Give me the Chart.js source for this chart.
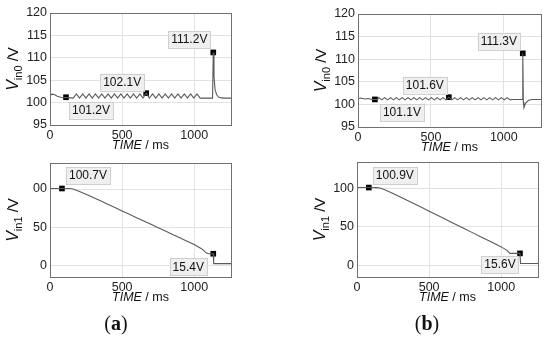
<!DOCTYPE html>
<html>
<head>
<meta charset="utf-8">
<script src="https://cdn.jsdelivr.net/npm/chart.js@4"></script>
<style>
  body { margin: 0; width: 550px; height: 338px; background: #fff; position: relative; overflow: hidden; }
  canvas { position: absolute; }
  .cap { position: absolute; width: 60px; text-align: center; font: 20px "Liberation Serif", "DejaVu Serif", serif; color: #111; line-height: 24px; }
</style>
</head>
<body>
<canvas id="a0"></canvas>
<canvas id="b0"></canvas>
<canvas id="a1"></canvas>
<canvas id="b1"></canvas>
<div class="cap" style="left:86px; top:311px;">(<b>a</b>)</div>
<div class="cap" style="left:397px; top:311px;">(<b>b</b>)</div>
<script>
// tick values
const xTicks = [0, 500, 1000];
const vin0Ticks = [95, 100, 105, 110, 115, 120];
const vin1Ticks = [0, 50, 100];
const vin1LabelsA = ['0', '50', '00'];   // the "1" is cut off in panel (a)
const vin1LabelsB = ['0', '50', '100'];

// (a) Vin0 waveform
const timeA0 = [0, 12, 30, 50, 75, 100, 125,
  161, 183, 205, 227, 249, 271, 293, 315, 337, 359, 381, 403, 425, 447, 469, 491, 513, 535, 557, 579, 601,
  623, 645, 667, 689, 711, 733, 755, 777, 799, 821, 843, 865, 887, 909, 931, 953, 975, 997, 1019, 1041,
  1060, 1127, 1132, 1137, 1144, 1155, 1170, 1200, 1255];
const vinA0 = [101.5, 101.9, 101.8, 101.4, 101.2, 101.1, 101.1,
  101.0, 101.95, 101.0, 101.95, 101.0, 101.95, 101.0, 101.95, 101.0, 101.95, 101.0, 101.95, 101.0, 101.95, 101.0, 101.95, 101.0, 101.95, 101.0, 101.95, 101.0,
  101.95, 101.0, 102.1, 101.0, 101.95, 101.0, 101.95, 101.0, 101.95, 101.0, 101.95, 101.0, 101.95, 101.0, 101.95, 101.0, 101.95, 101.0, 101.95, 101.0,
  101.0, 101.0, 111.2, 106, 103, 101.8, 101.2, 101.0, 101.0];

// (b) Vin0 waveform
const timeB0 = [0, 20, 45, 70, 95, 116, 133,
  143, 163, 183, 203, 223, 243, 263, 283, 303, 323, 343, 363, 383, 403, 423, 443, 463, 483, 503, 523, 543, 563, 583, 603,
  623, 643, 663, 683, 703, 723, 743, 763, 783, 803, 823, 843, 863, 883, 903, 923, 943, 963, 983, 1003, 1023, 1043,
  1060, 1125, 1130, 1134, 1138, 1150, 1170, 1195, 1255];
const vinB0 = [101.3, 101.4, 101.2, 101.3, 101.1, 101.1, 101.05,
  101.5, 101.0, 101.5, 101.0, 101.5, 101.0, 101.5, 101.0, 101.5, 101.0, 101.5, 101.0, 101.5, 101.0, 101.5, 101.0, 101.5, 101.0, 101.5, 101.0, 101.5, 101.0, 101.5, 101.0,
  101.6, 101.0, 101.5, 101.0, 101.5, 101.0, 101.5, 101.0, 101.5, 101.0, 101.5, 101.0, 101.5, 101.0, 101.5, 101.0, 101.5, 101.0, 101.5, 101.0, 101.5, 101.0,
  101.1, 101.1, 111.3, 100.5, 99.3, 100.3, 100.9, 101.1, 101.1];

// (a) Vin1 waveform
const timeA1 = [0, 83, 140, 165, 200, 250, 300, 350, 400, 450, 500, 550, 600, 650, 700, 750, 800, 850, 900, 950, 1000, 1050, 1085, 1100, 1132, 1135, 1255];
const vinA1 = [100.7, 100.7, 100.6, 99.8, 97.2, 93, 89, 84.6, 80.2, 75.8, 71.4, 67, 62.6, 58.2, 53.8, 49.4, 45, 40.6, 36.2, 31.8, 27.4, 22, 16.2, 15.4, 15.4, 2.5, 2.5];

// (b) Vin1 waveform
const timeB1 = [0, 82, 140, 165, 200, 250, 300, 350, 400, 450, 500, 550, 600, 650, 700, 750, 800, 850, 900, 950, 1000, 1040, 1060, 1130, 1134, 1255];
const vinB1 = [100.9, 100.9, 100.8, 100, 97.5, 93.3, 88.8, 84.2, 79.5, 75, 70.3, 65.6, 61, 56.4, 51.8, 47.2, 42.5, 37.9, 33.3, 28.6, 24, 19.5, 15.6, 15.6, 2.5, 2.5];

// marked points
const markTimeA0 = [111, 667, 1132];
const markVinA0 = [101.2, 102.1, 111.2];
const markTimeB0 = [116, 623, 1130];
const markVinB0 = [101.1, 101.6, 111.3];
const markTimeA1 = [83, 1132];
const markVinA1 = [100.7, 15.4];
const markTimeB1 = [82, 1130];
const markVinB1 = [100.9, 15.6];

const FONT = '"Liberation Sans", Arial, sans-serif';

// label box + axis titles + frame
const decor = {
  id: 'decor',
  afterDatasetsDraw(chart, args, o) {
    const { ctx, chartArea: a, scales: { x, y } } = chart;
    ctx.save();
    ctx.strokeStyle = '#707070';
    ctx.lineWidth = 1;
    ctx.strokeRect(Math.round(a.left) + 0.5, Math.round(a.top) + 0.5, Math.round(a.width), Math.round(a.height));
    ctx.font = '12px ' + FONT;
    ctx.textAlign = 'center';
    ctx.textBaseline = 'middle';
    o.times.forEach((t, i) => {
      const cx = x.getPixelForValue(t) + o.offsets[i][0];
      const cy = y.getPixelForValue(o.vals[i]) + o.offsets[i][1];
      const txt = o.vals[i].toFixed(1) + 'V';
      const w = ctx.measureText(txt).width + 6;
      ctx.fillStyle = '#efefef';
      ctx.fillRect(cx - w / 2, cy - 8.5, w, 17);
      ctx.strokeStyle = '#cfcfcf';
      ctx.strokeRect(Math.round(cx - w / 2) + 0.5, Math.round(cy - 8.5) + 0.5, Math.round(w), 17);
      ctx.fillStyle = '#111';
      ctx.fillText(txt, cx, cy + 0.5);
    });
    ctx.restore();
  },
  afterDraw(chart, args, o) {
    const { ctx, chartArea: a } = chart;
    ctx.save();
    ctx.fillStyle = '#111';
    ctx.textBaseline = 'middle';
    ctx.textAlign = 'left';
    // x title: TIME / ms
    const it = 'italic 12.5px ' + FONT, nm = '12.5px ' + FONT;
    ctx.font = it; const w1 = ctx.measureText('TIME').width;
    ctx.font = nm; const w2 = ctx.measureText(' / ms').width;
    let sx = (a.left + a.right) / 2 - (w1 + w2) / 2;
    const ty = a.bottom + 21;
    ctx.font = it; ctx.fillText('TIME', sx, ty);
    ctx.font = nm; ctx.fillText(' / ms', sx + w1, ty);
    // y title: V_inN /V
    ctx.translate(a.left - 36, (a.top + a.bottom) / 2);
    ctx.rotate(-Math.PI / 2);
    const vf = 'italic 16px ' + FONT, sf = '11px ' + FONT, rf = '15px ' + FONT;
    ctx.font = vf; const v1 = ctx.measureText('V').width;
    ctx.font = sf; const v2 = ctx.measureText(o.sub).width;
    ctx.font = rf; const v3 = ctx.measureText(' /V').width;
    sx = -(v1 + v2 + v3) / 2;
    ctx.font = vf; ctx.fillText('V', sx, 0);
    ctx.font = sf; ctx.fillText(o.sub, sx + v1, 5);
    ctx.font = rf; ctx.fillText(' /V', sx + v1 + v2, 0);
    ctx.restore();
  }
};

function makePanel(id, box, time, vin, mt, mv, offsets, yMin, yMax, yTicks, yLabels, sub) {
  const cv = document.getElementById(id);
  cv.width = box.w; cv.height = box.h;
  cv.style.left = box.left + 'px'; cv.style.top = box.top + 'px';
  cv.style.width = box.w + 'px'; cv.style.height = box.h + 'px';
  new Chart(cv, {
    type: 'scatter',
    data: {
      datasets: [{
        data: time.map((t, i) => ({ x: t, y: vin[i] })),
        showLine: true,
        borderColor: '#5a5a5a',
        borderWidth: 1.1,
        pointRadius: 0,
        tension: 0
      }, {
        data: mt.map((t, i) => ({ x: t, y: mv[i] })),
        pointStyle: 'rect',
        pointRadius: 4,
        backgroundColor: '#000',
        borderColor: '#000',
        borderWidth: 0
      }]
    },
    options: {
      responsive: false,
      animation: false,
      layout: { padding: { top: box.pt, right: box.pr, left: 0, bottom: 0 } },
      plugins: {
        legend: { display: false },
        tooltip: { enabled: false },
        decor: { times: mt, vals: mv, offsets: offsets, sub: sub }
      },
      scales: {
        x: {
          type: 'linear', min: 0, max: 1255,
          afterBuildTicks: s => { s.ticks = xTicks.map(v => ({ value: v })); },
          afterFit: s => { s.height = 35; },
          grid: { color: '#e2e2e2', drawTicks: false },
          border: { display: false },
          ticks: { padding: 3, color: '#222', font: { family: FONT, size: 12.5 }, callback: v => String(v) }
        },
        y: {
          min: yMin, max: yMax,
          afterBuildTicks: s => { s.ticks = yTicks.map(v => ({ value: v })); },
          afterFit: s => { s.width = 50; },
          grid: { color: '#e2e2e2', drawTicks: false },
          border: { display: false },
          ticks: {
            padding: 3, color: '#222', font: { family: FONT, size: 12.5 },
            callback: v => yLabels[yTicks.indexOf(v)]
          }
        }
      }
    },
    plugins: [decor]
  });
}

makePanel('a0', { left: 0, top: 0, w: 242, h: 160, pt: 13, pr: 11 }, timeA0, vinA0, markTimeA0, markVinA0,
  [[25, 13], [-24, -11], [-24, -13]], 95, 120, vin0Ticks, vin0Ticks.map(String), 'in0');
makePanel('b0', { left: 308, top: 0, w: 242, h: 162, pt: 14, pr: 9 }, timeB0, vinB0, markTimeB0, markVinB0,
  [[27, 13], [-24, -12], [-24, -12]], 95, 120, vin0Ticks, vin0Ticks.map(String), 'in0');
makePanel('a1', { left: 0, top: 150, w: 242, h: 162, pt: 13, pr: 11 }, timeA1, vinA1, markTimeA1, markVinA1,
  [[26, -13], [-25, 13]], -15, 134, vin1Ticks, vin1LabelsA, 'in1');
makePanel('b1', { left: 307, top: 150, w: 242, h: 162, pt: 12, pr: 11 }, timeB1, vinB1, markTimeB1, markVinB1,
  [[26, -12], [-20, 11]], -15, 134, vin1Ticks, vin1LabelsB, 'in1');
</script>
</body>
</html>
